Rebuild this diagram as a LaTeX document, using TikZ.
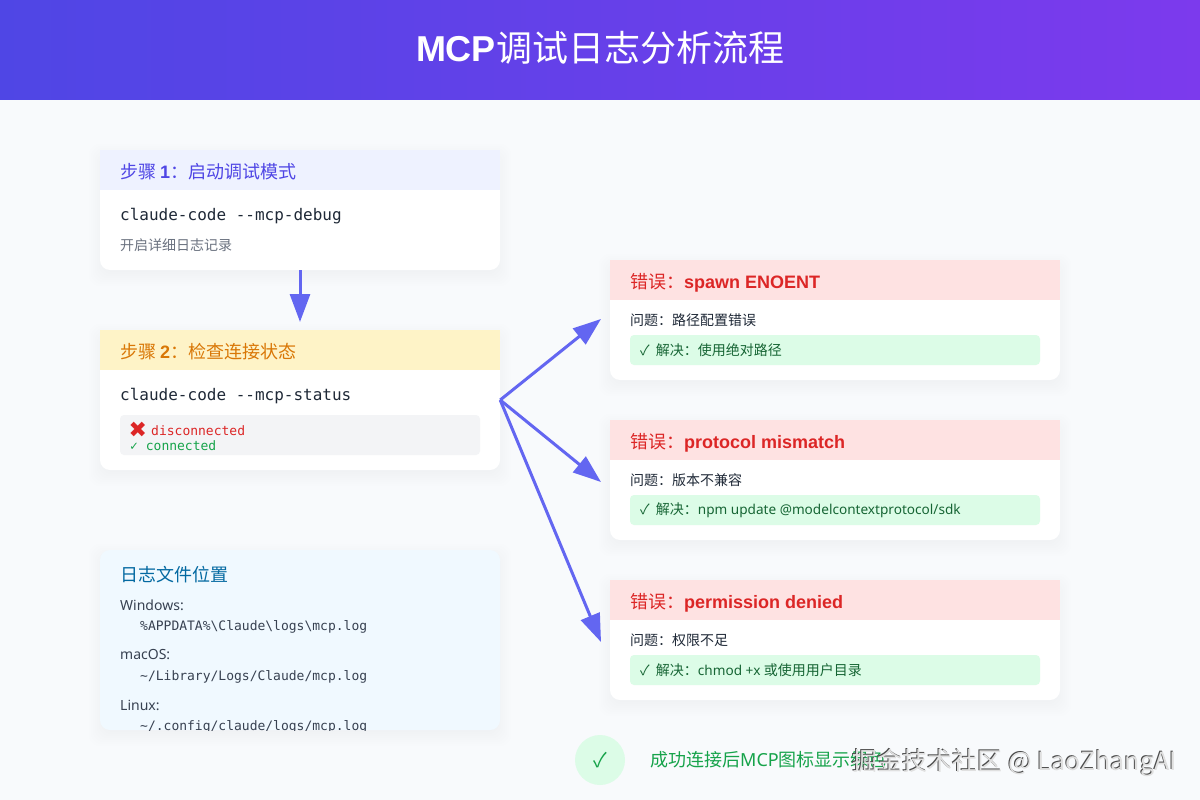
\documentclass[tikz,border=0pt]{standalone}
\usepackage{fontspec}
\usepackage{xcolor}
\usetikzlibrary{arrows.meta,calc}
\setmainfont{Noto Sans CJK SC}
\setmonofont{DejaVu Sans Mono}
\newfontfamily\lat{Noto Sans}
\newfontfamily\latb{Liberation Sans}
\newfontfamily\symb{DejaVu Sans}

\definecolor{pagebg}{HTML}{F8FAFC}
\definecolor{bandl}{HTML}{4F46E5}
\definecolor{bandr}{HTML}{7C3AED}
\definecolor{arrowc}{HTML}{6366F1}
\definecolor{stepa}{HTML}{4F46E5}
\definecolor{stepab}{HTML}{EEF2FF}
\definecolor{stepb}{HTML}{D97706}
\definecolor{stepbb}{HTML}{FEF3C7}
\definecolor{logb}{HTML}{F0F9FF}
\definecolor{logt}{HTML}{0369A1}
\definecolor{errt}{HTML}{DC2626}
\definecolor{errb}{HTML}{FEE2E2}
\definecolor{okb}{HTML}{DCFCE7}
\definecolor{okt}{HTML}{166534}
\definecolor{okc}{HTML}{16A34A}
\definecolor{ink}{HTML}{1F2937}
\definecolor{inkb}{HTML}{374151}
\definecolor{inkc}{HTML}{6B7280}
\definecolor{boxg}{HTML}{F3F4F6}

\newcommand{\fs}[1]{\fontsize{#1}{#1}\selectfont}
\newcommand{\bnum}[1]{{\latb\bfseries #1}}
% soft shadow behind a card
\newcommand{\softshadow}[1]{
    \foreach \s in {-5,-3,...,11} {
        \fill [black, opacity=0.005, rounded corners=11pt]
            ($(#1.north west)+(-\s,5-\s)$) rectangle ($(#1.south east)+(\s,5+\s)$);
    }
}

\begin{document}
\begin{tikzpicture}[x=1pt,y=-1pt]
    \tikzstyle{card}=[rectangle,rounded corners=10pt,fill=white,minimum height=120pt,minimum width=400pt,inner sep=0pt]
    \tikzstyle{errcard}=[card,minimum width=450pt]
    \tikzstyle{head}=[rectangle,minimum height=40pt,minimum width=400pt,inner sep=0pt]
    \tikzstyle{errhead}=[head,fill=errb,minimum width=450pt]
    \tikzstyle{txt}=[anchor=west,inner sep=0pt]
    \tikzstyle{stepT}=[txt,font=\fs{18}]
    \tikzstyle{cmd}=[txt,font=\ttfamily\fs{16},text=ink]
    \tikzstyle{errT}=[txt,font=\fs{18},text=errt]
    \tikzstyle{issue}=[txt,font=\fs{14},text=ink]
    \tikzstyle{fix}=[rectangle,rounded corners=4pt,fill=okb,minimum width=410pt,minimum height=30pt,inner sep=0pt]
    \tikzstyle{fixT}=[txt,font=\fs{14},text=okt]
    \tikzstyle{os}=[txt,font=\lat\fs{14},text=inkb]
    \tikzstyle{path}=[txt,font=\ttfamily\fs{13},text=inkb]
    \tikzstyle{flow}=[-{Triangle[length=28pt,width=20pt]},line width=3pt,draw=arrowc]

    % Background and title band
    \fill [pagebg] (0,0) rectangle (1200,800);
    \shade [left color=bandl,right color=bandr] (0,0) rectangle (1200,99.6);
    \node [font=\fs{36},text=white,inner sep=0pt] (title) at (600,48) {\bnum{MCP}调试日志分析流程};

    % Step 1
    \node [card,fill=none] (step1) at (300,210) {};
    \softshadow{step1}
    \node [card] (step1) at (300,210) {};
    \node [head,fill=stepab] (step1h) at (300,170) {};
    \node [stepT,text=stepa] (step1t) at (120,172) {步骤 \bnum{1}：启动调试模式};
    \node [cmd] (step1c) at (120,216) {claude-code --mcp-debug};
    \node [txt,font=\fs{14},text=inkc] (step1n) at (120,245) {开启详细日志记录};

    % Step 2
    \node [card,fill=none,minimum height=140pt] (step2) at (300,400) {};
    \softshadow{step2}
    \node [card,minimum height=140pt] (step2) at (300,400) {};
    \node [head,fill=stepbb] (step2h) at (300,350) {};
    \node [stepT,text=stepb] (step2t) at (120,352) {步骤 \bnum{2}：检查连接状态};
    \node [cmd] (step2c) at (120,396) {claude-code --mcp-status};
    \node [rectangle,rounded corners=4pt,fill=boxg,minimum width=360pt,minimum height=40pt,inner sep=0pt] (status) at (300,435) {};
    \node [txt,font=\symb\fs{22},text=errt] (statusx) at (128.5,430) {✖};
    \node [txt,font=\ttfamily\fs{13},text=errt] (statusa) at (151,431) {disconnected};
    \node [txt,font=\ttfamily\fs{13},text=okc] (statusb) at (130,446) {✓ connected};

    % Log files
    \node [card,fill=none,minimum height=180pt] (logs) at (300,640) {};
    \softshadow{logs}
    \node [card,minimum height=180pt,fill=logb] (logs) at (300,640) {};
    \node [stepT,text=logt] (logst) at (120,575) {日志文件位置};
    \begin{scope}
        \clip (100,550) rectangle (500,730);
        \node [os] (win) at (120,605) {Windows:};
        \node [path] (winp) at (140,627) {\%APPDATA\%\textbackslash Claude\textbackslash logs\textbackslash mcp.log};
        \node [os] (mac) at (120,655) {macOS:};
        \node [path] (macp) at (140,677) {\string~/Library/Logs/Claude/mcp.log};
        \node [os] (lin) at (120,705) {Linux:};
        \node [path] (linp) at (140,727) {\string~/.config/claude/logs/mcp.log};
    \end{scope}

    % Error 1
    \node [errcard,fill=none] (err1) at (835,320) {};
    \softshadow{err1}
    \node [errcard] (err1) at (835,320) {};
    \node [errhead] (err1h) at (835,280) {};
    \node [errT] (err1t) at (630,283) {错误：\bnum{spawn ENOENT}};
    \node [issue] (err1i) at (630,320) {问题：路径配置错误};
    \node [fix] (err1f) at (835,350) {};
    \node [fixT] (err1s) at (640,350) {✓\hspace{3pt} 解决：使用绝对路径};

    % Error 2
    \node [errcard,fill=none] (err2) at (835,480) {};
    \softshadow{err2}
    \node [errcard] (err2) at (835,480) {};
    \node [errhead] (err2h) at (835,440) {};
    \node [errT] (err2t) at (630,443) {错误：\bnum{protocol mismatch}};
    \node [issue] (err2i) at (630,480) {问题：版本不兼容};
    \node [fix] (err2f) at (835,510) {};
    \node [fixT] (err2s) at (640,510) {✓\hspace{3pt} 解决：{\lat\fs{13.6}npm update @modelcontextprotocol/sdk}};

    % Error 3
    \node [errcard,fill=none] (err3) at (835,640) {};
    \softshadow{err3}
    \node [errcard] (err3) at (835,640) {};
    \node [errhead] (err3h) at (835,600) {};
    \node [errT] (err3t) at (630,603) {错误：\bnum{permission denied}};
    \node [issue] (err3i) at (630,640) {问题：权限不足};
    \node [fix] (err3f) at (835,670) {};
    \node [fixT] (err3s) at (640,670) {✓\hspace{3pt} 解决：{\lat\fs{13.6}chmod +x} 或使用用户目录};

    % Arrows
    \coordinate (tip1) at (300,322);
    \coordinate (tipa) at (601,319);
    \coordinate (tipb) at (601,482);
    \coordinate (tipc) at (601,642);
    \draw [flow] (step1.south) -- (tip1);
    \draw [flow] (step2.east) -- (tipa);
    \draw [flow] (step2.east) -- (tipb);
    \draw [flow] (step2.east) -- (tipc);

    % Success note
    \node [circle,fill=okb,minimum size=50pt,inner sep=0pt] (okdot) at (600,760) {};
    \node [font=\fs{20},text=okc,inner sep=0pt] (okmark) at (600,760) {✓};
    \node [txt,font=\fs{18},text=okc] (oktext) at (650,760) {成功连接后{\lat MCP}图标显示绿色};

    % Watermark
    \node [txt,font=\fs{25},text=black!70] (markb) at (851.6,762.5) {掘金技术社区 @ LaoZhangAI};
    \node [txt,font=\fs{25},text=white!88!black] (mark) at (852.6,763.1) {掘金技术社区 @ LaoZhangAI};

    \useasboundingbox (0,0) rectangle (1200,800);
\end{tikzpicture}
\end{document}
